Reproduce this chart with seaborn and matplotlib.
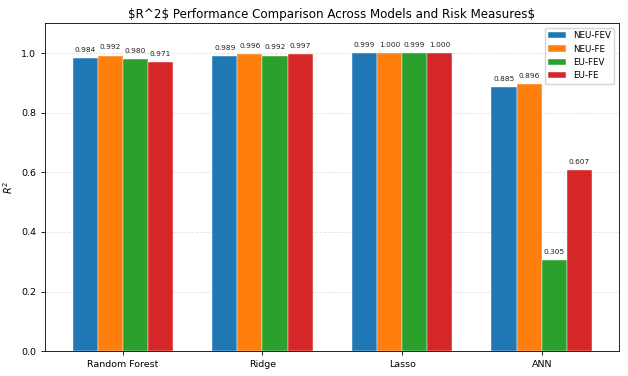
import numpy as np
import pandas as pd
import matplotlib
matplotlib.use("Agg")
import matplotlib.pyplot as plt
import seaborn as sns

# Data
models = ["Random Forest", "Ridge", "Lasso", "ANN"]
measures = ["NEU-FEV", "NEU-FE", "EU-FEV", "EU-FE"]
neu_fev = [0.984, 0.989, 0.999, 0.885]
neu_fe = [0.992, 0.996, 1.000, 0.896]
eu_fev = [0.980, 0.992, 0.999, 0.305]
eu_fe = [0.971, 0.997, 1.000, 0.607]
colors = ["#1f77b4", "#ff7f0e", "#2ca02c", "#d62728"]

# Long-form table for seaborn
df = pd.DataFrame({
    "Model": models * 4,
    "Measure": np.repeat(measures, len(models)),
    "R2": neu_fev + neu_fe + eu_fev + eu_fe,
})

fig, ax = plt.subplots(figsize=(6.28, 3.76), dpi=100)

sns.barplot(
    data=df, x="Model", y="R2", hue="Measure",
    order=models, hue_order=measures,
    palette=colors, saturation=1, width=0.72,
    edgecolor="white", linewidth=0.3,
    errorbar=None, ax=ax, zorder=3
)

# Value labels above each bar
for container in ax.containers:
    for bar in container:
        h = bar.get_height()
        ax.text(bar.get_x() + bar.get_width() / 2, h + 0.017, f"{h:.3f}",
                ha="center", va="bottom", fontsize=5.3, color="#222222")

ax.set_title("$R^2$ Performance Comparison Across Models and Risk Measures$",
             fontsize=8.6, pad=4)
ax.set_xlabel("")
ax.set_ylabel("$R^2$", fontsize=7)
ax.set_ylim(0, 1.1)
ax.set_xlim(-0.557, 3.55)
ax.set_yticks(np.arange(0, 1.01, 0.2))
ax.tick_params(axis="both", labelsize=6.8, length=3, width=0.6)
for s in ax.spines.values():
    s.set_linewidth(0.6)
ax.grid(axis="y", linestyle="--", alpha=0.35, linewidth=0.6, zorder=0)
ax.legend(loc="upper right", fontsize=6.3)

plt.subplots_adjust(left=0.0717, right=0.985, top=0.938, bottom=0.066)
plt.savefig("out.png", dpi=100)
plt.close()
